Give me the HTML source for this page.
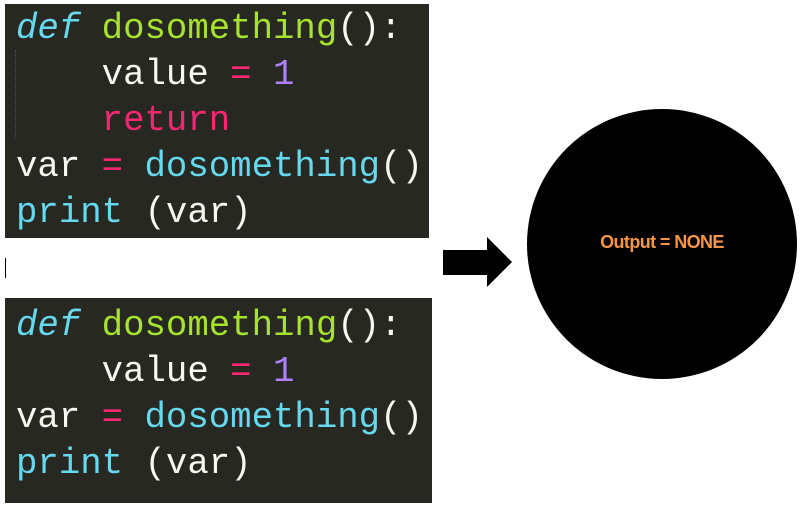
<!DOCTYPE html>
<html><head><style>
body{margin:0;width:806px;height:509px;background:#fff;position:relative;overflow:hidden}
.box{position:absolute;background:#272822;font-family:"Liberation Mono",monospace;font-size:35.7px;color:#f8f8f2}
.l{position:absolute;left:11px;white-space:pre;line-height:46px}
.k{color:#66d9ef;font-style:italic}.f{color:#a6e22e}.o{color:#f92672}.n{color:#ae81ff}.b{color:#66d9ef}
</style></head><body>
<div class="box" style="left:5px;top:4px;width:424px;height:234px">
<div style="position:absolute;left:10px;top:46px;height:88px;border-left:1px dotted #555"></div>
<div class="l" style="top:2px"><span class="k">def</span> <span class="f">dosomething</span>():</div>
<div class="l" style="top:48px">    value <span class="o">=</span> <span class="n">1</span></div>
<div class="l" style="top:94px">    <span class="o">return</span></div>
<div class="l" style="top:140px">var <span class="o">=</span> <span class="b">dosomething</span>()</div>
<div class="l" style="top:186px"><span class="b">print</span> (var)</div>
</div>
<div style="position:absolute;left:5px;top:258px;width:1px;height:20px;background:#000"></div>
<div class="box" style="left:5px;top:298px;width:427px;height:205px">
<div class="l" style="top:5px"><span class="k">def</span> <span class="f">dosomething</span>():</div>
<div class="l" style="top:51px">    value <span class="o">=</span> <span class="n">1</span></div>
<div class="l" style="top:97px">var <span class="o">=</span> <span class="b">dosomething</span>()</div>
<div class="l" style="top:143px"><span class="b">print</span> (var)</div>
</div>
<svg style="position:absolute;left:0;top:0" width="806" height="509">
<polygon points="443,250 487,250 487,237 512,262 487,287 487,275 443,275" fill="#000"/>
<circle cx="662" cy="244" r="135" fill="#000"/>
<text x="662" y="248" text-anchor="middle" font-family="Liberation Sans,sans-serif" font-weight="bold" font-size="18" letter-spacing="-0.6" fill="#f79646">Output = NONE</text>
</svg>
</body></html>
